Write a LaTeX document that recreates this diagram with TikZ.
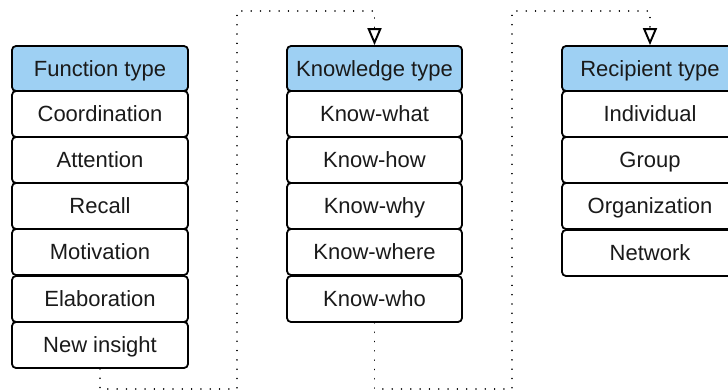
\documentclass[tikz,border=0pt]{standalone}
\usepackage{fontspec}
\setmainfont{Liberation Sans}
\usetikzlibrary{arrows.meta}
\definecolor{headblue}{RGB}{158,208,243}
\definecolor{inkgray}{RGB}{26,26,26}
\begin{document}
\begin{tikzpicture}[x=1pt,y=-1pt,
  cell/.style={draw=black, line width=1.8pt, rounded corners=4pt, fill=white,
    minimum width=176pt, minimum height=46pt, inner sep=0pt,
    text height=15.5pt, text depth=0pt,
    text=inkgray, font=\fontsize{22}{25}\selectfont},
  headcell/.style={cell, fill=headblue, minimum height=45pt},
  link/.style={line width=1.6pt, line cap=round, dash pattern=on 0.01pt off 9.3pt,
    -{Triangle[open, width=14pt, length=17pt, line width=1.9pt]}}]
\useasboundingbox (0,0) rectangle (728,391);

% Function type column
\node[headcell] (f0) at (100,68.5) {Function type};
\node[cell] (f1) at (100,114) {Coordination};
\node[cell] (f2) at (100,160) {Attention};
\node[cell] (f3) at (100,206) {Recall};
\node[cell] (f4) at (100,252) {Motivation};
\node[cell] (f5) at (100,299) {Elaboration};
\node[cell] (f6) at (100,345) {New insight};

% Knowledge type column
\node[headcell, minimum width=175pt] (k0) at (374.5,68.5) {Knowledge type};
\node[cell, minimum width=175pt] (k1) at (374.5,114) {Know-what};
\node[cell, minimum width=175pt] (k2) at (374.5,160) {Know-how};
\node[cell, minimum width=175pt] (k3) at (374.5,206) {Know-why};
\node[cell, minimum width=175pt] (k4) at (374.5,252) {Know-where};
\node[cell, minimum width=175pt] (k5) at (374.5,299) {Know-who};

% Recipient type column
\node[headcell] (r0) at (650,68.5) {Recipient type};
\node[cell] (r1) at (650,114) {Individual};
\node[cell] (r2) at (650,160) {Group};
\node[cell] (r3) at (650,206) {Organization};
\node[cell] (r4) at (650,253) {Network};

% routing points of the dotted links
\coordinate (a1) at (237,389);
\coordinate (a2) at (374.5,11);
\coordinate (b1) at (512,389);
\coordinate (b2) at (650,11);

\draw[link] (f6.south) |- (a1) |- (a2) -- (k0.north);
\draw[link] (k5.south) |- (b1) |- (b2) -- (r0.north);
\end{tikzpicture}
\end{document}
